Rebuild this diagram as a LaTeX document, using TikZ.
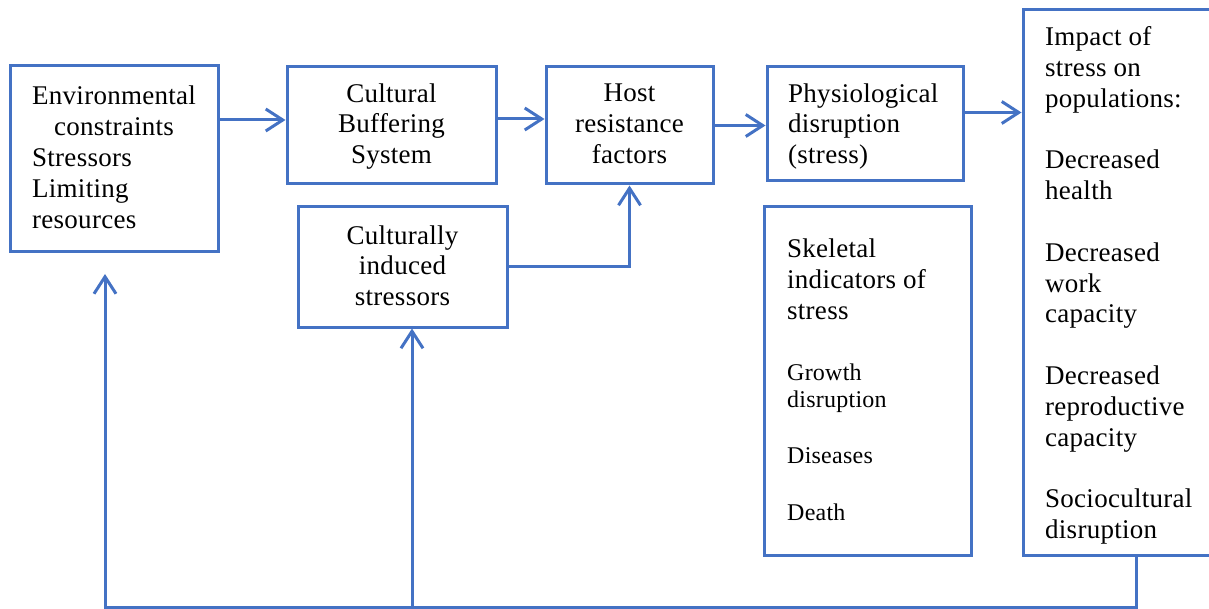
\documentclass[tikz,border=0pt]{standalone}
\usepackage{fontspec}
\setmainfont{Liberation Serif}[LetterSpace=1]
\usetikzlibrary{arrows.meta}
\definecolor{blu}{HTML}{4472C4}
\begin{document}
\begin{tikzpicture}[x=1pt,y=-1pt,
  box/.style={draw=blu, line width=3pt, inner sep=0pt, minimum width=#1},
  big/.style={font=\fontsize{27}{30.8}\selectfont, inner sep=0pt},
  small/.style={font=\fontsize{24}{27}\selectfont, inner sep=0pt, anchor=west, align=left},
  arr/.style={draw=blu, line width=3pt, -{Straight Barb[length=17pt,width=22pt]}},
  ln/.style={draw=blu, line width=3pt}]
\useasboundingbox (0,0) rectangle (1209,609);
% boxes
\node[box=208pt, minimum height=186pt] (env) at (114,159) {};
\node[box=209pt, minimum height=117pt] (cult) at (391.5,125.5) {};
\node[box=167pt, minimum height=117pt] (host) at (629.5,125.5) {};
\node[box=209pt, minimum height=120pt] (ind) at (402.5,267) {};
\node[box=196pt, minimum height=114pt] (phys) at (865,124) {};
\node[box=207pt, minimum height=348pt] (skel) at (867.5,381) {};
\node[box=188pt, minimum height=545pt] (imp) at (1117,282.5) {};
% texts
\node[big, anchor=west, align=left] (envt) at (32,157.3)
  {Environmental\\{\setbox0\hbox{Environmental}\hbox to \wd0{\hfil constraints\hfil}}\\Stressors\\Limiting\\resources};
\node[big, align=center] (cultt) at (391.5,126.4) {Cultural\\Buffering\\System};
\node[big, align=center] (hostt) at (629.5,123.6) {Host\\resistance\\factors};
\node[big, align=center] (indt) at (402.5,265.7) {Culturally\\induced\\stressors};
\node[big, anchor=west, align=left] (physt) at (788,126.4) {Physiological\\disruption\\(stress)};
\node[big, anchor=west, align=left, font=\fontsize{27}{31}\selectfont] (skelt) at (787,279.7) {Skeletal\\indicators of\\stress};
\node[small] (growth) at (787,388.4) {Growth\\disruption};
\node[small] (dis) at (787,455.2) {Diseases};
\node[small] (death) at (787,512.2) {Death};
\node[big, anchor=west, align=left] (impt) at (1045,285.4)
  {Impact of\\stress on\\populations:\\[30.8pt]Decreased\\health\\[30.8pt]Decreased\\work\\capacity\\[30.8pt]Decreased\\reproductive\\capacity\\[30.8pt]Sociocultural\\disruption};
% connectors
\draw[arr] (env.east |- 0,120) -- (cult.west |- 0,120);
\draw[arr] ([yshift=6.5pt]cult.east) -- ([yshift=6.5pt]host.west);
\draw[arr] (host.east) -- (host.east -| phys.west);
\draw[arr] ([yshift=11.5pt]phys.east) coordinate (p4) -- (p4 -| imp.west);
\draw[arr] (ind.east) -| (host.south);
\coordinate (fbR) at (1136,607);
\coordinate (fbM) at (412,607);
\coordinate (fbL) at (105,607);
\coordinate (envtip) at (105,274);
\draw[arr] (fbR |- imp.south) -- (fbR) -- (fbL) -- (envtip);
\draw[arr] (fbM) -- (fbM |- ind.south);
\end{tikzpicture}
\end{document}
